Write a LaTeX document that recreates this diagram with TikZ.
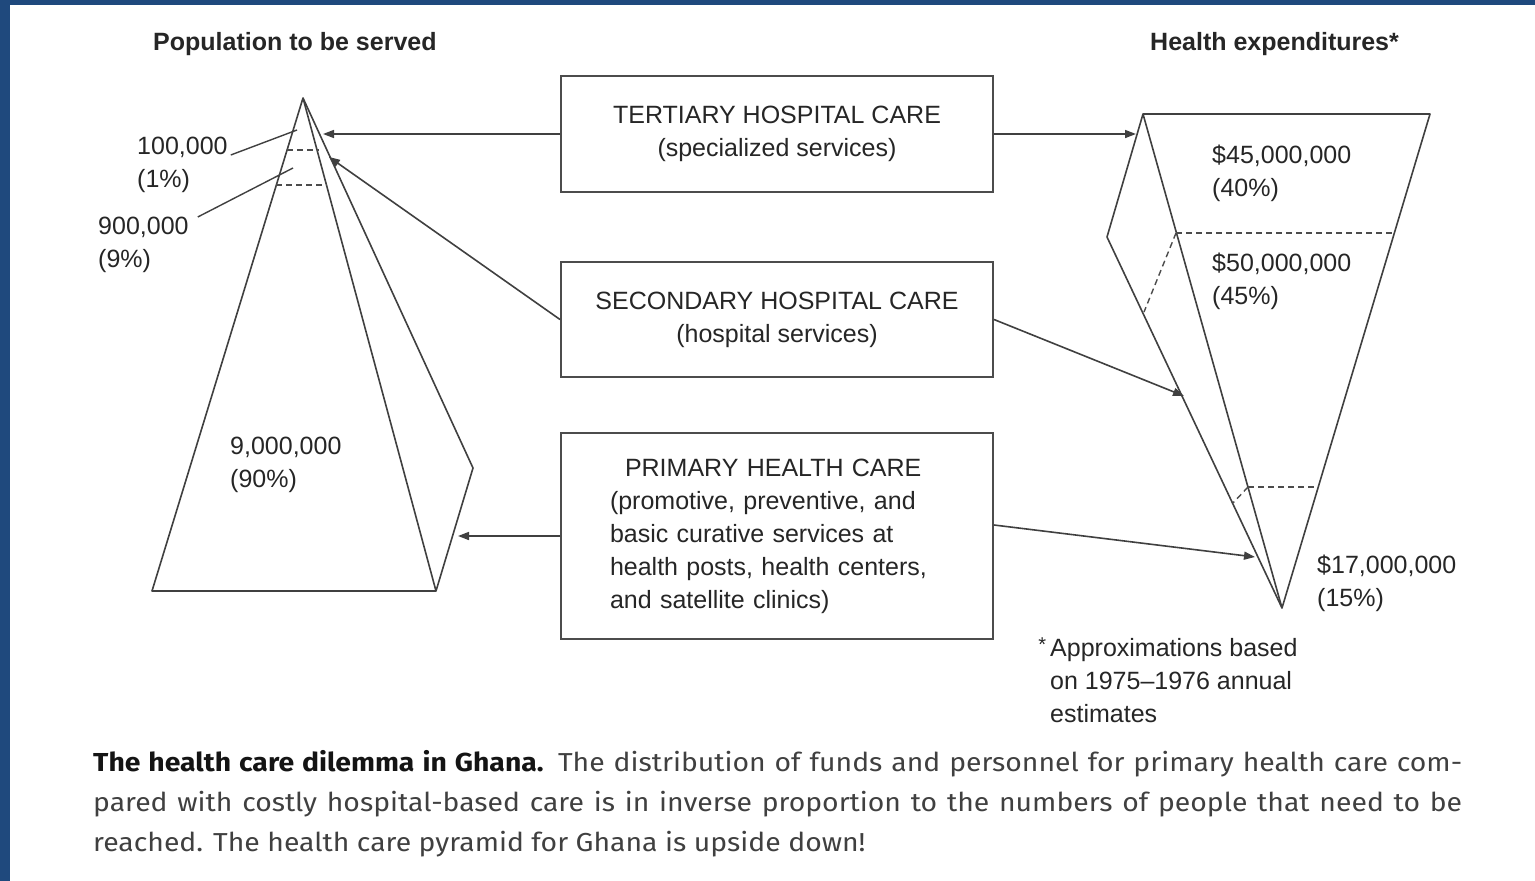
\documentclass[tikz,border=0pt]{standalone}
\usepackage{fontspec}
\setmainfont{Liberation Sans}
\newfontfamily\capfont[FakeStretch=1.09]{Fira Sans}
\usetikzlibrary{arrows.meta,calc}
\definecolor{frameblue}{RGB}{31,73,125}

\begin{document}
\begin{tikzpicture}[x=1pt,y=-1pt,
  every node/.style={inner sep=0pt, text=black!85},
  txt/.style={font=\fontsize{25}{33}\selectfont, align=left, anchor=north west},
  head/.style={font=\fontsize{25}{30}\selectfont\bfseries, anchor=north west},
  careBox/.style={draw=black!70, line width=2pt, minimum width=432pt,
    font=\fontsize{25}{33}\selectfont},
  edge/.style={draw=black!75, line width=1.6pt, line join=round},
  level/.style={draw=black!70, line width=1.4pt, dash pattern=on 6pt off 4pt},
  flow/.style={draw=black!75, line width=1.6pt, -{Triangle[length=11pt,width=8pt]}},
  leader/.style={draw=black!75, line width=1.4pt}
]
% page, frame strips
\fill[white] (0,0) rectangle (1535,881);
\useasboundingbox (0,0) rectangle (1535,881);
\fill[frameblue] (0,0) rectangle (10,881);
\fill[frameblue] (0,0) rectangle (1535,5);

% headings
\node[head] (popHead) at (153,32) {Population to be served};
\node[head] (expHead) at (1150,32) {Health expenditures*};

% population pyramid
\coordinate (pApex) at (303,98);
\coordinate (pBL) at (152,591);
\coordinate (pBR) at (436,591);
\coordinate (pSide) at (473,468);
\draw[edge] (pApex) -- (pBL) -- (pBR) -- cycle;
\draw[edge] (pApex) -- (pSide) -- (pBR);
\draw[level] (287,150) -- (319,150);
\draw[level] (276,185) -- (327,185);

% expenditure pyramid (upside down)
\coordinate (eTL) at (1143,114);
\coordinate (eTR) at (1430,114);
\coordinate (eTip) at (1282,608);
\coordinate (eSide) at (1107,237);
\draw[edge] (eTL) -- (eTR) -- (eTip) -- cycle;
\draw[edge] (eTL) -- (eSide) -- (eTip);
\draw[level] (1176,233) -- (1394,233);
\draw[level] (1176,233) -- (1144,312);
\draw[level] (1248,487) -- (1318,487);
\draw[level] (1248,487) -- (1233,503);

% levels of care
\node[careBox, minimum height=116pt, align=center] (tert) at (777,134)
  {TERTIARY HOSPITAL CARE\\(specialized services)};
\node[careBox, minimum height=115pt, align=center] (sec) at (777,319.5)
  {SECONDARY HOSPITAL CARE\\(hospital services)};
\node[careBox, minimum height=206pt, text width=334pt, inner xsep=49pt, align=left] (phc) at (777,536)
  {\hspace*{15pt}PRIMARY HEALTH CARE\\(promotive, preventive, and\\basic curative services at\\health posts, health centers,\\and satellite clinics)};

% population figures
\node[txt] (pop1) at (137,137) {100,000\\(1\%)};
\node[txt] (pop9) at (98,217) {900,000\\(9\%)};
\node[txt] (pop90) at (230,437) {9,000,000\\(90\%)};
\coordinate (p1mark) at (297,130);
\coordinate (p9mark) at (293,168);
\draw[leader] ([shift={(3pt,-18pt)}]pop1.north east) -- (p1mark);
\draw[leader] ([shift={(9pt,0pt)}]pop9.north east) -- (p9mark);

% expenditure figures
\node[txt] (exp40) at (1212,145) {\$45,000,000\\(40\%)};
\node[txt] (exp45) at (1212,253) {\$50,000,000\\(45\%)};
\node[txt] (exp15) at (1317,555) {\$17,000,000\\(15\%)};

% flows
\coordinate (toTop) at (323,134);
\coordinate (toMid) at (329,157);
\coordinate (toBase) at (458,536);
\coordinate (toExpTop) at (1136,134);
\coordinate (toExpMid) at (1184,396);
\coordinate (toExpLow) at (1255,557);
\draw[flow] (tert.west) -- (toTop);
\draw[flow] (sec.west) -- (toMid);
\draw[flow] (phc.west) -- (toBase);
\draw[flow] (tert.east) -- (toExpTop);
\draw[flow] (sec.east) -- (toExpMid);
\draw[flow] ([yshift=11pt]phc.east) -- (toExpLow);

% footnote
\node[txt] (note) at (1050,638)
  {\leavevmode\llap{\raisebox{5pt}{\fontsize{20}{20}\selectfont *}\hspace{4pt}}Approximations based\\on 1975--1976 annual\\estimates};

% caption
\node[anchor=north west, align=left, font=\capfont\fontsize{26}{40}\selectfont, text=black!75] (caption) at (93,750)
  {\makebox[1369pt][s]{\textbf{\color{black!92}The health care dilemma in Ghana.} The distribution of funds and personnel for primary health care com-}\\
   \makebox[1369pt][s]{pared with costly hospital-based care is in inverse proportion to the numbers of people that need to be}\\
   reached. The health care pyramid for Ghana is upside down!};
\end{tikzpicture}
\end{document}
